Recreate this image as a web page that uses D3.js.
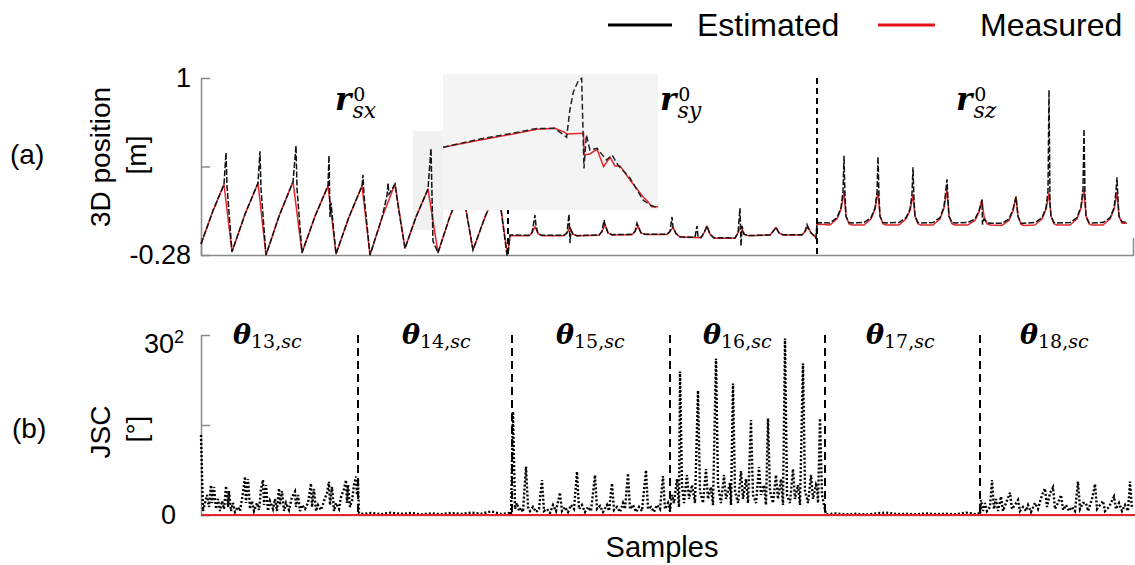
<!DOCTYPE html>
<html><head><meta charset="utf-8">
<script src="https://cdn.jsdelivr.net/npm/d3@7"></script>
<style>
body{margin:0;background:#fff}
svg{display:block}
text{font-family:"Liberation Sans",Arial,sans-serif;fill:#000}
.math{font-family:"DejaVu Serif",serif}
</style>
</head><body>
<svg id="c" width="1135" height="565"></svg>
<script>
// ---------- DATA ----------
// Panel (a): 3D position [m], samples on x
const yTicksA = [-0.28, 0.36, 1];
const yTickLabelsA = ["-0.28", "", "1"];
const yTicksB = [0, 450, 900];
const yTickLabelsB = ["0", "", "30"];
const segSepA = [307, 616];
const segSepB = [157, 311, 469, 624, 779];
const segLabelsA = ["sx", "sy", "sz"];
const segLabelsB = ["13", "14", "15", "16", "17", "18"];
const zoomWindow = [212, 242];
const zoomRange = [-0.099, 0.617];

const measRsx = [[0,-0.20],[12,0.04],[23,0.23],[31,-0.256],[44,0.015],[57,0.24],[65,-0.28],[78,0.0],[92,0.25],[101,-0.263],[114,0.0],[127,0.22],[135,-0.273],[148,-0.005],[161,0.22],[169,-0.28],[181,-0.01],[194,0.233],[204,-0.232],[215,-0.005],[227,0.197],[237,-0.263],[249,0.0],[261,0.21],[272,-0.244],[284,-0.005],[297,0.21],[306,-0.256]];
const estRsx = [[0,-0.20],[12,0.04],[23,0.23],[25,0.46],[26,0.22],[31,-0.256],[44,0.015],[57,0.24],[59,0.47],[60,0.2],[65,-0.28],[78,0.0],[92,0.25],[95,0.51],[96,0.2],[101,-0.263],[114,0.0],[127,0.22],[128,0.44],[129,-0.005],[130,0.1],[135,-0.273],[148,-0.005],[161,0.22],[162,0.3],[163,0.15],[169,-0.28],[181,-0.01],[186,0.15],[187,0.24],[188,0.16],[194,0.233],[198,0.03],[204,-0.232],[215,-0.005],[227,0.197],[230,0.49],[232,-0.18],[237,-0.263],[249,0.0],[261,0.21],[272,-0.244],[284,-0.005],[297,0.21],[306,-0.28]];

const measRsy = [[307,-0.256],[309,-0.141],[328,-0.141],[331,-0.12],[334,-0.075],[337,-0.125],[341,-0.141],[363,-0.141],[366,-0.12],[369,-0.08],[372,-0.13],[376,-0.141],[398,-0.138],[401,-0.11],[404,-0.06],[407,-0.12],[411,-0.135],[431,-0.133],[434,-0.11],[437,-0.07],[440,-0.12],[444,-0.131],[466,-0.131],[469,-0.11],[472,-0.08],[475,-0.125],[479,-0.15],[500,-0.155],[503,-0.12],[506,-0.07],[509,-0.13],[513,-0.159],[534,-0.159],[537,-0.12],[540,-0.07],[543,-0.13],[547,-0.14],[569,-0.136],[572,-0.11],[575,-0.08],[578,-0.12],[582,-0.135],[601,-0.135],[604,-0.11],[607,-0.075],[610,-0.12],[613,-0.14],[615,-0.16]];
const estRsy = [[307,-0.28],[309,-0.135],[328,-0.138],[331,-0.12],[334,0.009],[335,-0.07],[337,-0.125],[341,-0.138],[363,-0.138],[366,-0.12],[368,0.016],[369,-0.193],[370,-0.1],[372,-0.13],[376,-0.14],[398,-0.135],[401,-0.11],[403,-0.027],[404,-0.06],[407,-0.12],[411,-0.133],[431,-0.13],[434,-0.11],[436,-0.05],[437,-0.07],[440,-0.12],[444,-0.13],[466,-0.13],[469,-0.11],[471,-0.005],[472,-0.08],[475,-0.125],[479,-0.148],[494,-0.152],[496,-0.07],[497,-0.15],[500,-0.153],[503,-0.12],[506,-0.07],[509,-0.13],[513,-0.155],[534,-0.157],[537,-0.12],[539,0.06],[540,-0.215],[541,-0.07],[543,-0.13],[547,-0.14],[569,-0.135],[572,-0.11],[575,-0.08],[578,-0.12],[582,-0.133],[601,-0.133],[604,-0.11],[606,-0.06],[607,-0.08],[610,-0.12],[613,-0.14],[615,-0.16]];

const measRsz = [[616,-0.055],[629,-0.063],[636,-0.02],[640,0.05],[643,0.178],[645,0.0],[648,-0.055],[651,-0.063],[663,-0.063],[670,-0.02],[674,0.05],[677,0.178],[679,0.0],[682,-0.055],[685,-0.063],[698,-0.063],[705,-0.02],[709,0.04],[712,0.154],[714,0.0],[717,-0.055],[720,-0.063],[732,-0.063],[739,-0.02],[743,0.06],[746,0.19],[748,0.0],[751,-0.055],[754,-0.063],[767,-0.063],[774,-0.03],[778,0.03],[781,0.118],[783,0.0],[786,-0.055],[789,-0.063],[801,-0.066],[808,-0.03],[812,0.04],[815,0.142],[817,0.0],[820,-0.06],[823,-0.066],[834,-0.063],[841,-0.02],[845,0.05],[848,0.166],[850,0.0],[853,-0.055],[856,-0.063],[869,-0.063],[876,-0.02],[880,0.06],[883,0.195],[885,0.0],[888,-0.055],[891,-0.063],[902,-0.063],[909,-0.02],[913,0.05],[916,0.171],[918,0.0],[921,-0.05],[926,-0.051]];
const estRsz = [[616,-0.045],[629,-0.048],[636,-0.01],[640,0.06],[642,0.18],[643,0.438],[644,0.15],[645,0.0],[648,-0.045],[651,-0.048],[663,-0.045],[670,-0.01],[674,0.06],[676,0.17],[677,0.431],[678,0.15],[679,0.0],[682,-0.045],[685,-0.048],[698,-0.045],[705,-0.01],[709,0.05],[711,0.16],[712,0.354],[713,0.12],[714,0.0],[717,-0.045],[720,-0.048],[732,-0.045],[739,-0.01],[743,0.07],[745,0.2],[746,0.267],[747,0.12],[748,0.0],[751,-0.045],[754,-0.048],[767,-0.045],[774,-0.02],[778,0.04],[781,0.12],[781.5,-0.06],[783,-0.02],[786,-0.045],[789,-0.05],[801,-0.05],[808,-0.02],[812,0.05],[815,0.14],[817,0.0],[820,-0.05],[823,-0.05],[834,-0.045],[841,-0.01],[845,0.06],[847,0.18],[848,0.913],[849,0.1],[850,0.0],[853,-0.045],[856,-0.048],[869,-0.045],[876,-0.01],[880,0.07],[882,0.2],[883,0.631],[884,0.15],[885,0.0],[888,-0.045],[891,-0.048],[902,-0.045],[909,-0.01],[913,0.06],[915,0.18],[916,0.282],[917,0.12],[918,0.0],[921,-0.04],[926,-0.045]];

// zoomed inset (samples 212-242)
const insetMeas = [[212,0.231],[217.2,0.270],[221.8,0.301],[225.1,0.326],[227.6,0.331],[229.0,0.31],[229.3,0.301],[231.6,0.305],[231.7,0.191],[232.5,0.196],[233.5,0.221],[234.4,0.129],[235.3,0.178],[236.0,0.133],[236.7,0.133],[238.1,0.059],[239.9,-0.029],[240.6,-0.055],[241.1,-0.082],[242,-0.082]];
const insetEst = [[212,0.231],[217.2,0.275],[221.8,0.306],[225.1,0.33],[227.6,0.331],[229.25,0.284],[229.7,0.427],[230.2,0.524],[230.9,0.582],[231.35,0.594],[231.67,0.12],[232.0,0.296],[232.5,0.217],[233.5,0.226],[234.8,0.164],[235.6,0.19],[236.4,0.138],[238.1,0.069],[239.9,-0.046],[240.9,-0.073],[241.6,-0.083],[242,-0.073]];

// Panel (b): JSC
const jscMeasured = [[0,0],[934,0]];
const jsc13 = [[0,400],[2,20],[4,60],[6,100],[8,40],[10,150],[11,60],[13,140],[15,30],[17,80],[19,20],[21,70],[23,30],[25,145],[27,40],[28,120],[30,20],[32,60],[34,15],[37,40],[39,20],[42,110],[44,192],[45,60],[47,180],[49,30],[51,70],[53,20],[56,60],[58,25],[60,130],[62,175],[63,50],[65,150],[67,20],[69,70],[72,30],[74,80],[76,20],[78,133],[79,50],[81,120],[83,20],[85,60],[88,25],[91,90],[94,117],[95,40],[97,100],[99,20],[101,50],[104,30],[107,60],[110,158],[111,40],[113,130],[115,20],[117,50],[120,25],[123,70],[126,110],[128,167],[129,50],[131,140],[133,20],[135,60],[138,30],[140,90],[143,130],[145,175],[146,60],[147,150],[149,40],[151,70],[153,150],[155,192],[156,100],[157,180]];
const jsc14 = [[158,10],[160,5],[170,10],[180,4],[190,12],[200,5],[210,10],[220,3],[230,8],[240,4],[250,10],[260,5],[270,12],[280,6],[290,18],[300,5],[308,10],[310,3]];
const jsc15 = [[312,517],[314,30],[316,60],[318,20],[320,35],[322,15],[325,242],[327,40],[329,20],[332,40],[335,15],[338,30],[341,175],[343,20],[346,30],[349,10],[352,50],[355,20],[359,112],[361,20],[364,40],[367,15],[370,50],[373,30],[376,217],[378,30],[381,50],[384,15],[387,40],[390,20],[394,200],[396,30],[399,45],[402,15],[406,50],[408,20],[411,158],[413,25],[416,40],[419,15],[422,60],[424,30],[427,208],[429,30],[432,50],[435,15],[438,40],[441,20],[445,225],[447,30],[450,40],[453,15],[456,50],[459,30],[462,195],[464,30],[467,60],[469,20]];
const jsc16 = [[471,100],[473,60],[476,180],[478,40],[479,717],[481,150],[483,60],[486,200],[488,80],[491,150],[494,60],[497,622],[499,120],[502,60],[505,230],[507,80],[510,140],[512,50],[515,783],[517,150],[520,60],[523,200],[525,80],[529,160],[530,50],[532,658],[534,120],[537,60],[540,220],[542,80],[545,180],[547,60],[550,475],[552,100],[555,60],[558,240],[560,100],[563,150],[565,50],[567,483],[569,120],[572,60],[575,200],[577,80],[580,180],[582,50],[584,883],[586,100],[589,60],[592,230],[594,80],[597,150],[599,50],[602,758],[604,120],[607,60],[610,200],[612,80],[615,150],[616,135],[617,60],[619,483],[621,100],[623,50]];
const jsc17 = [[625,3],[635,8],[645,3],[655,6],[665,2],[675,8],[685,12],[695,5],[705,6],[715,3],[725,8],[735,4],[745,6],[755,3],[765,12],[775,4],[778,8]];
const jsc18 = [[779,2],[780,75],[782,20],[784,60],[786,20],[789,40],[791,175],[793,30],[795,80],[797,20],[800,92],[802,20],[805,60],[809,112],[811,30],[814,50],[817,75],[819,20],[822,40],[825,20],[827,50],[830,15],[834,60],[837,30],[841,100],[844,133],[846,40],[849,110],[852,138],[854,30],[857,60],[860,100],[862,25],[865,50],[868,20],[871,40],[874,20],[877,167],[879,30],[882,60],[885,60],[887,20],[891,80],[894,155],[896,30],[899,50],[902,70],[904,20],[908,40],[913,92],[915,30],[918,60],[921,20],[924,50],[927,20],[929,167],[931,30]];

// ---------- DRAWING ----------
const svg = d3.select("#c");
const AX = "#8a8a8a", RED = "#e3262b";
const x = d3.scaleLinear().domain([0, 932]).range([201, 1133]);
const yA = d3.scaleLinear().domain([-0.28, 1]).range([255, 78]);
const yB = d3.scaleLinear().domain([0, 900]).range([515, 335]);
const lineA = d3.line().x(d => x(d[0])).y(d => yA(d[1]));
const lineB = d3.line().x(d => x(d[0])).y(d => yB(d[1]));

// small zoom box highlight
svg.append("rect")
  .attr("x", x(zoomWindow[0])).attr("y", yA(zoomRange[1]))
  .attr("width", x(zoomWindow[1]) - x(zoomWindow[0]))
  .attr("height", yA(zoomRange[0]) - yA(zoomRange[1]))
  .attr("fill", "#f1f1f1");

function styleAxis(g) {
  g.selectAll("path,line").attr("stroke", AX).attr("stroke-width", 1.5);
  g.selectAll("text").attr("font-size", 27).attr("fill", "#000")
    .attr("font-family", '"Liberation Sans",Arial,sans-serif');
}

// axes panel (a)
const gxA = svg.append("g").attr("transform", `translate(0,${yA(-0.28)})`)
  .call(d3.axisBottom(x).tickValues([]).tickSizeOuter(-17));
styleAxis(gxA);
const gyA = svg.append("g").attr("transform", `translate(${x(0)},0)`)
  .call(d3.axisLeft(yA).tickValues(yTicksA).tickSizeInner(-9).tickSizeOuter(0).tickPadding(10)
    .tickFormat((d, i) => yTickLabelsA[i]));
styleAxis(gyA);

// lines panel (a)
const measA = measRsx.concat(measRsy, measRsz);
const estA = estRsx.concat(estRsy, estRsz);
svg.append("path").datum(measA).attr("d", lineA).attr("fill", "none")
  .attr("stroke", RED).attr("stroke-width", 1.5).attr("stroke-linejoin", "round");
svg.append("path").datum(estA).attr("d", lineA).attr("fill", "none")
  .attr("stroke", "#111").attr("stroke-width", 1.5).attr("stroke-dasharray", "6,2");

// separators panel (a)
svg.selectAll(".sepA").data(segSepA).enter().append("line")
  .attr("x1", d => x(d)).attr("x2", d => x(d))
  .attr("y1", yA(1)).attr("y2", yA(-0.28) + 3)
  .attr("stroke", "#000").attr("stroke-width", 2).attr("stroke-dasharray", "6,4");

// inset
const ix = d3.scaleLinear().domain(zoomWindow).range([443, 658]);
const iy = d3.scaleLinear().domain(zoomRange).range([210, 74]);
svg.append("rect").attr("x", 443).attr("y", 74).attr("width", 215).attr("height", 136)
  .attr("fill", "#f4f4f4");
svg.append("clipPath").attr("id", "ic").append("rect")
  .attr("x", 443).attr("y", 74).attr("width", 215).attr("height", 136);
const lineI = d3.line().x(d => ix(d[0])).y(d => iy(d[1]));
const gi = svg.append("g").attr("clip-path", "url(#ic)");
gi.append("path").datum(insetMeas).attr("d", lineI).attr("fill", "none")
  .attr("stroke", RED).attr("stroke-width", 1.5);
gi.append("path").datum(insetEst).attr("d", lineI).attr("fill", "none")
  .attr("stroke", "#222").attr("stroke-width", 1.5).attr("stroke-dasharray", "6,3");

// segment labels panel (a)
const rPos = [335, 660, 956];
segLabelsA.forEach((s, i) => {
  const t = svg.append("text").attr("class", "math").attr("x", rPos[i]).attr("y", 110);
  t.append("tspan").attr("font-size", 31).attr("font-weight", "bold").attr("font-style", "italic").text("r");
  t.append("tspan").attr("font-size", 19).attr("dx", 2).attr("dy", -9).text("0");
  t.append("tspan").attr("font-size", 22).attr("font-style", "italic").attr("dx", -13).attr("dy", 17).text(s);
});

// axes panel (b)
const gxB = svg.append("g").attr("transform", `translate(0,${yB(0)})`)
  .call(d3.axisBottom(x).tickValues([]).tickSizeOuter(0));
styleAxis(gxB);
const gyB = svg.append("g").attr("transform", `translate(${x(0)},0)`)
  .call(d3.axisLeft(yB).tickValues(yTicksB).tickSizeInner(-9).tickSizeOuter(0).tickPadding(10)
    .tickFormat((d, i) => yTickLabelsB[i]));
styleAxis(gyB);
const topLbl = gyB.selectAll(".tick text").filter(d => d === 900);
topLbl.attr("dy", "0.65em").attr("x", -17);
topLbl.append("tspan").attr("font-size", 18).attr("dy", "-0.55em").text("2");
gyB.selectAll(".tick text").filter(d => d === 0).attr("x", -25);

// lines panel (b)
const estB = jsc13.concat(jsc14, jsc15, jsc16, jsc17, jsc18);
svg.append("path").datum(estB).attr("d", lineB).attr("fill", "none")
  .attr("stroke", "#000").attr("stroke-width", 2.4).attr("stroke-dasharray", "2,2");
svg.append("path").datum(jscMeasured).attr("d", lineB).attr("fill", "none")
  .attr("stroke", RED).attr("stroke-width", 2);

svg.selectAll(".sepB").data(segSepB).enter().append("line")
  .attr("x1", d => x(d)).attr("x2", d => x(d))
  .attr("y1", yB(900)).attr("y2", yB(0))
  .attr("stroke", "#000").attr("stroke-width", 2).attr("stroke-dasharray", "8,5");

const thPos = [233, 402, 556, 703, 866, 1020];
segLabelsB.forEach((s, i) => {
  const t = svg.append("text").attr("class", "math").attr("x", thPos[i]).attr("y", 344);
  t.append("tspan").attr("font-size", 27).attr("font-weight", "bold").attr("font-style", "italic").text("\u03B8");
  t.append("tspan").attr("font-size", 19).attr("dy", 4).text(s + ",");
  t.append("tspan").attr("font-size", 19).attr("font-style", "italic").text("sc");
});

// axis titles
svg.append("text").attr("x", 10).attr("y", 164).attr("font-size", 28).text("(a)");
svg.append("text").attr("x", 12).attr("y", 438).attr("font-size", 28).text("(b)");
function vtext(cx, cy, s) {
  svg.append("text").attr("transform", `translate(${cx},${cy}) rotate(-90)`)
    .attr("text-anchor", "middle").attr("font-size", 28).text(s);
}
vtext(110, 157, "3D position");
vtext(146, 155, "[m]");
vtext(110, 432, "JSC");
vtext(146, 429, "[\u00B0]");
svg.append("text").attr("x", 662).attr("y", 557).attr("text-anchor", "middle")
  .attr("font-size", 29).text("Samples");

// legend
svg.append("line").attr("x1", 608).attr("x2", 672).attr("y1", 25).attr("y2", 25)
  .attr("stroke", "#000").attr("stroke-width", 3);
svg.append("text").attr("x", 697).attr("y", 36).attr("font-size", 32).text("Estimated");
svg.append("line").attr("x1", 878).attr("x2", 935).attr("y1", 25).attr("y2", 25)
  .attr("stroke", "#e8101a").attr("stroke-width", 3);
svg.append("text").attr("x", 980).attr("y", 36).attr("font-size", 32).text("Measured");
</script>
</body></html>
